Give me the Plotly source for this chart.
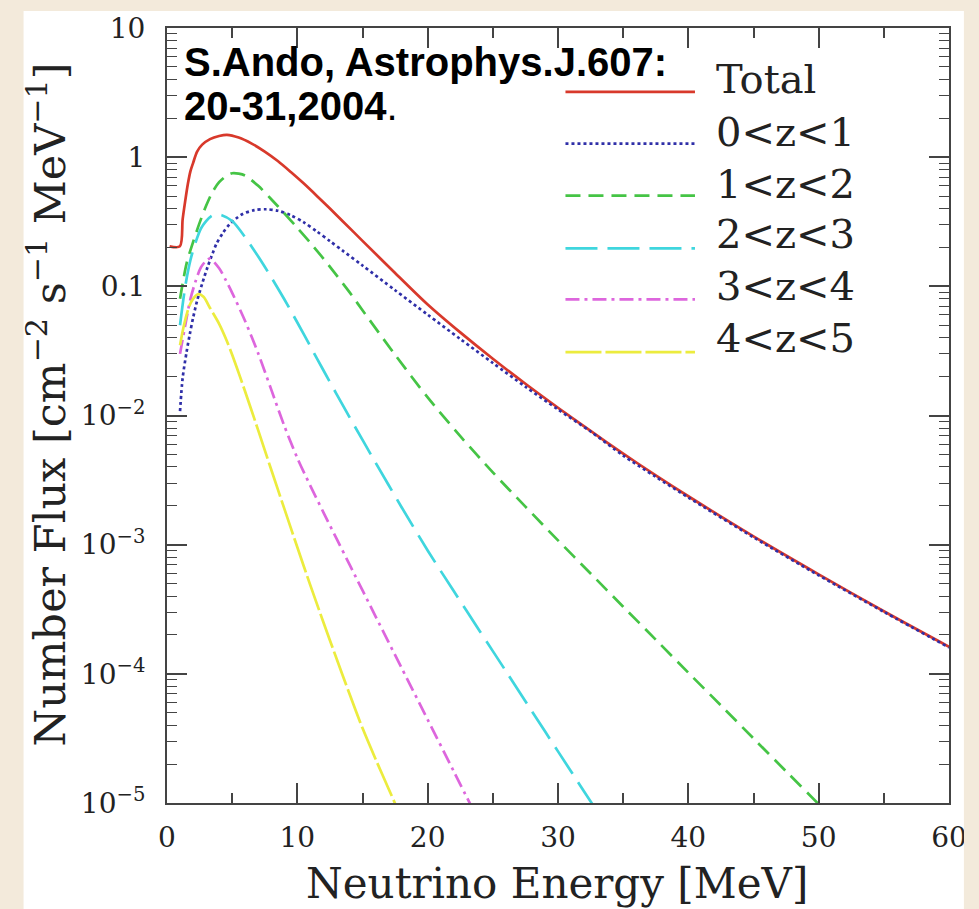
import plotly.graph_objects as go

# Relic supernova neutrino number flux, split by redshift bins
E_total = [0.2, 0.99, 1.2, 1.4, 1.6, 1.8, 2.0, 2.3, 2.7, 3.3, 4.0, 4.6, 5.5, 6.5, 7.5, 8.5,
           9.5, 10.5, 11.5, 12.5, 13.5, 15.0, 17.5, 20.0, 22.5, 25.0, 27.5, 30.0, 32.5, 35.0,
           37.5, 40.0, 45.0, 50.0, 55.0, 60.0]
F_total = [0.204, 0.204, 0.33, 0.46, 0.62, 0.78, 0.90, 1.10, 1.25, 1.38, 1.46, 1.49, 1.419,
           1.274, 1.104, 0.933, 0.767, 0.624, 0.501, 0.400, 0.318, 0.225, 0.127, 0.0724,
           0.0440, 0.0275, 0.0176, 0.01148, 0.00759, 0.00507, 0.00344, 0.00237, 0.00116,
           5.89e-4, 3.05e-4, 1.62e-4]

E_z01 = [1.0, 1.2, 1.5, 1.75, 2.0, 2.3, 2.7, 3.1, 3.5, 3.8, 4.3, 4.8, 5.3, 5.8, 6.7, 7.6, 8.5,
         9.5, 10.5, 11.5, 12.5, 13.5, 15.0, 17.5, 20.0, 22.5, 25.0, 27.5, 30.0, 32.5, 35.0,
         37.5, 40.0, 45.0, 50.0, 55.0, 60.0]
F_z01 = [0.0108, 0.0195, 0.0309, 0.0427, 0.0569, 0.0767, 0.105, 0.140, 0.180, 0.214, 0.260,
         0.302, 0.335, 0.363, 0.389, 0.395, 0.385, 0.355, 0.313, 0.266, 0.224, 0.188, 0.145,
         0.0933, 0.0603, 0.0391, 0.0255, 0.0167, 0.01114, 0.00752, 0.0049, 0.00335, 0.00232,
         0.00114, 5.79e-4, 3.02e-4, 1.60e-4]

E_z12 = [1.0, 1.5, 2.0, 2.5, 3.0, 3.5, 4.0, 4.5, 5.0, 5.5, 6.0, 7.0, 8.0, 9.0, 10.0, 11.0,
         12.0, 13.0, 14.0, 15.0, 17.5, 20.0, 22.5, 25.0, 27.5, 30.0, 32.5, 35.0, 37.5, 40.0,
         42.5, 45.0, 47.5, 50.0, 51.0]
F_z12 = [0.08, 0.15, 0.22, 0.31, 0.42, 0.54, 0.64, 0.71, 0.75, 0.745, 0.72, 0.60, 0.472,
         0.368, 0.284, 0.217, 0.164, 0.122, 0.0902, 0.0653, 0.0295, 0.0138, 0.00692,
         0.00363, 0.00197, 0.00108, 5.98e-4, 3.31e-4, 1.84e-4, 1.02e-4, 5.69e-5, 3.16e-5,
         1.76e-5, 9.8e-6, 7.8e-6]

E_z23 = [1.0, 1.4, 1.8, 2.2, 2.6, 3.0, 3.4, 3.7, 4.2, 5.0, 6.0, 7.0, 8.0, 9.0, 10.0, 11.0,
         12.0, 13.0, 14.0, 16.0, 18.0, 20.0, 22.0, 24.0, 26.0, 28.0, 30.0, 32.0, 33.5]
F_z23 = [0.05, 0.10, 0.16, 0.22, 0.28, 0.32, 0.35, 0.36, 0.355, 0.32, 0.24, 0.17, 0.1175,
         0.0794, 0.0525, 0.0343, 0.0224, 0.01472, 0.00973, 0.00432, 0.00195, 9.02e-4,
         4.37e-4, 2.14e-4, 1.05e-4, 5.13e-5, 2.51e-5, 1.23e-5, 7.2e-6]

E_z34 = [1.0, 1.4, 1.8, 2.2, 2.6, 3.0, 3.3, 4.0, 4.5, 5.0, 6.0, 7.0, 8.0, 9.0, 10.0, 11.0,
         12.0, 13.0, 14.0, 16.0, 18.0, 20.0, 22.0, 24.0]
F_z34 = [0.03, 0.05, 0.08, 0.11, 0.14, 0.158, 0.164, 0.138, 0.112, 0.0891, 0.0537, 0.0302,
         0.01585, 0.00832, 0.00468, 0.00285, 0.00178, 0.001117, 7.03e-4, 2.79e-4, 1.11e-4,
         4.42e-5, 1.76e-5, 7.0e-6]

E_z45 = [1.0, 1.3, 1.7, 2.0, 2.4, 2.8, 3.3, 4.0, 4.6, 5.0, 5.6, 6.3, 7.0, 8.0, 9.0, 10.0,
         11.0, 12.0, 13.0, 14.0, 15.0, 16.0, 17.0, 18.0]
F_z45 = [0.035, 0.05, 0.07, 0.08, 0.087, 0.083, 0.068, 0.0513, 0.0376, 0.0295, 0.0200,
         0.01245, 0.00767, 0.0038, 0.0019, 9.55e-4, 4.84e-4, 2.51e-4, 1.32e-4, 7.0e-5,
         3.8e-5, 2.19e-5, 1.29e-5, 7.6e-6]

x_ticks = [0, 10, 20, 30, 40, 50, 60]
x_minor = [5, 15, 25, 35, 45, 55]
y_ticks = [1e-5, 1e-4, 1e-3, 1e-2, 0.1, 1, 10]
y_labels = ["10<sup>−5</sup>", "10<sup>−4</sup>", "10<sup>−3</sup>", "10<sup>−2</sup>",
            "0.1", "1", "10"]

series = [
    # name, x, y, colour, dash
    ("Total", E_total, F_total, "#d8392b", "solid"),
    ("0&lt;z&lt;1", E_z01, F_z01, "#2f2fa8", "dot"),
    ("1&lt;z&lt;2", E_z12, F_z12, "#45c445", "15px,8px"),
    ("2&lt;z&lt;3", E_z23, F_z23, "#3fd6de", "32px,10px"),
    ("3&lt;z&lt;4", E_z34, F_z34, "#dd66dd", "14px,5px,3px,5px"),
    ("4&lt;z&lt;5", E_z45, F_z45, "#ecec3e", "36px,4px"),
]

BEIGE = "#f3eadb"
AXIS = "#444444"
SERIF = "DejaVu Serif"

fig = go.Figure()
for name, xs, ys, col, dash in series:
    fig.add_trace(go.Scatter(
        x=xs, y=ys, mode="lines", name=name, showlegend=False,
        line=dict(color=col, width=2.7, dash=dash, shape="spline", smoothing=0.8),
    ))

# plot frame geometry (pixels)
L, R, T, B = 167, 952, 26, 803
W, H = 979, 909
pw, ph = R - L, B - T


def px(xp):
    return (xp - L) / pw


def py(yp):
    return (B - yp) / ph


shapes = [
    # white panel behind the chart
    dict(type="rect", xref="paper", yref="paper", x0=px(23), x1=px(967), y0=py(915), y1=py(9),
         fillcolor="white", line=dict(width=0), layer="below"),
    # page border strip on the right
    dict(type="rect", xref="paper", yref="paper", x0=px(967), x1=px(990), y0=py(920), y1=py(-5),
         fillcolor=BEIGE, line=dict(width=0), layer="above"),
]

annotations = []
legend_rows = [(90, 77), (142, 130), (194, 182), (247, 233), (298, 285), (351, 337)]
for (name, xs, ys, col, dash), (ly, ty) in zip(series, legend_rows):
    shapes.append(dict(type="line", xref="paper", yref="paper", x0=px(567), x1=px(697),
                       y0=py(ly), y1=py(ly), line=dict(color=col, width=2.7, dash=dash)))
    annotations.append(dict(text=name, xref="paper", yref="paper", x=px(716), y=py(ty),
                            xanchor="left", yanchor="middle", showarrow=False,
                            font=dict(family=SERIF, size=40, color="#222")))

annotations += [
    dict(text="<b>S.Ando, Astrophys.J.607:</b>", xref="paper", yref="paper", x=px(182),
         y=py(60), xanchor="left", yanchor="middle", showarrow=False,
         font=dict(family="Liberation Sans", size=40, color="black")),
    dict(text="<b>20-31,2004</b>.", xref="paper", yref="paper", x=px(182), y=py(104),
         xanchor="left", yanchor="middle", showarrow=False,
         font=dict(family="Liberation Sans", size=40, color="black")),
    dict(text="Neutrino Energy [MeV]", xref="paper", yref="paper", x=px(558), y=py(884),
         xanchor="center", yanchor="middle", showarrow=False,
         font=dict(family=SERIF, size=42, color="#222")),
    dict(text="Number Flux [cm<sup>−2</sup> s<sup>−1</sup> MeV<sup>−1</sup>]",
         xref="paper", yref="paper", x=px(47), y=py(403), textangle=-90,
         xanchor="center", yanchor="middle", showarrow=False,
         font=dict(family=SERIF, size=43, color="#222")),
]

y_minor = [k * 10.0 ** n for n in range(-5, 1) for k in range(2, 10)]

fig.update_xaxes(
    range=[0, 60], tickmode="array", tickvals=x_ticks, ticktext=[str(v) for v in x_ticks],
    ticks="inside", ticklen=20, tickwidth=1.6, tickcolor=AXIS,
    showline=True, linecolor=AXIS, linewidth=2, mirror="ticks",
    minor=dict(tickmode="array", tickvals=x_minor, ticks="inside", ticklen=10,
               tickwidth=1.6, tickcolor=AXIS, showgrid=False),
    showgrid=False, zeroline=False, ticklabelstandoff=8,
    tickfont=dict(family=SERIF, size=28, color="#222"),
)
fig.update_yaxes(
    type="log", range=[-5, 1], tickmode="array", tickvals=y_ticks, ticktext=y_labels,
    ticks="inside", ticklen=20, tickwidth=1.6, tickcolor=AXIS,
    showline=True, linecolor=AXIS, linewidth=2, mirror="ticks",
    minor=dict(tickmode="array", tickvals=y_minor, ticks="inside", ticklen=10,
               tickwidth=1.3, tickcolor=AXIS, showgrid=False),
    showgrid=False, zeroline=False, ticklabelstandoff=14,
    tickfont=dict(family=SERIF, size=28, color="#222"),
)

fig.update_layout(
    width=W, height=H, autosize=False,
    margin=dict(l=L, r=W - R, t=T, b=H - B, pad=0),
    paper_bgcolor=BEIGE, plot_bgcolor="white",
    shapes=shapes, annotations=annotations, showlegend=False,
)

fig.write_html("out.html")
